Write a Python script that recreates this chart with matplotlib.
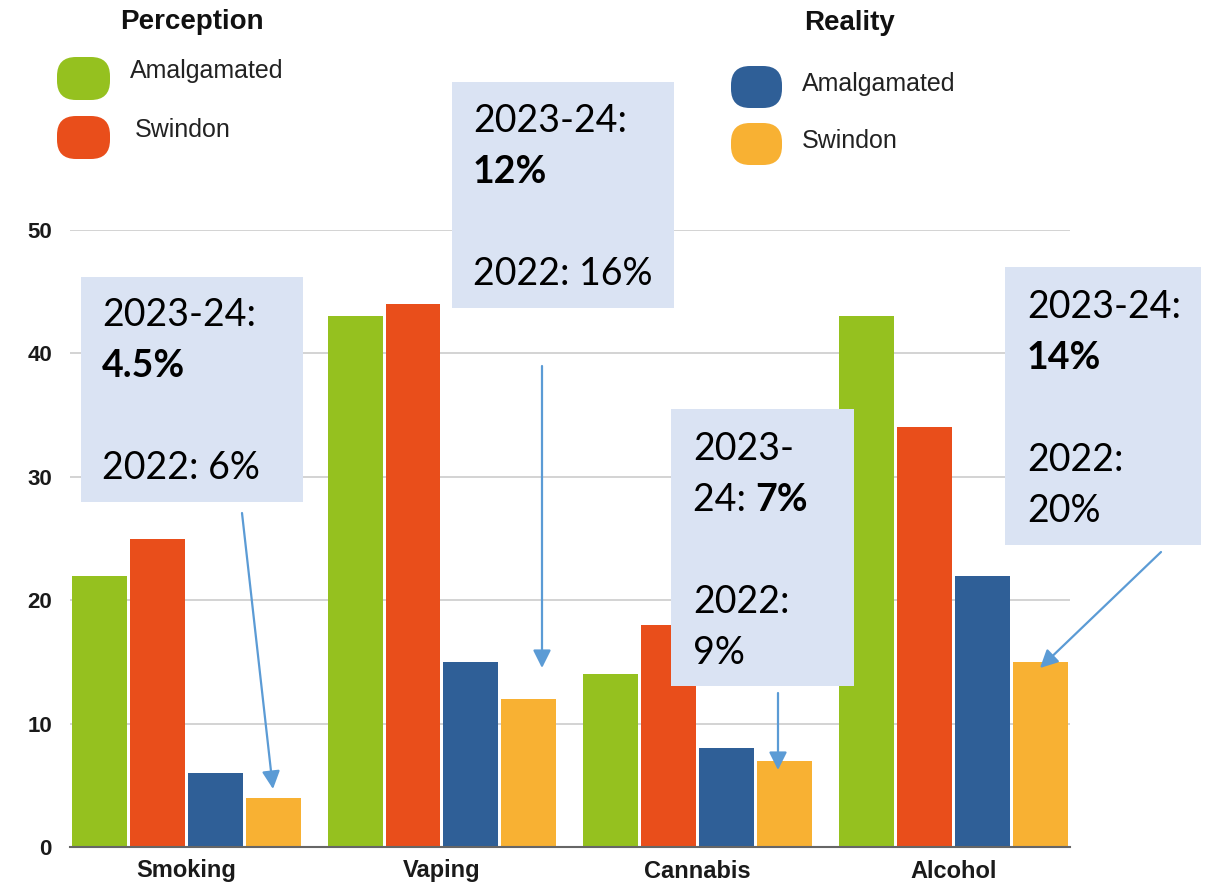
import numpy as np
import matplotlib
matplotlib.use("Agg")
import matplotlib.pyplot as plt
from matplotlib.patches import FancyBboxPatch, Rectangle, FancyArrowPatch
from matplotlib.transforms import Affine2D

# ---------------- data ----------------
categories = ["Smoking", "Vaping", "Cannabis", "Alcohol"]
perception_amalgamated = [22, 43, 14, 43]
perception_swindon = [25, 44, 18, 34]
reality_amalgamated = [6, 15, 8, 22]
reality_swindon = [4, 12, 7, 15]
series_names = ["Amalgamated", "Swindon", "Amalgamated", "Swindon"]
legend_titles = ["Perception", "Reality"]
y_ticks = [0, 10, 20, 30, 40, 50]

# callout texts: list of lines, each line list of (text, bold)
callouts = [
    [[("2023-24:", False)], [("4.5%", True)], [], [("2022: 6%", False)]],
    [[("2023-24:", False)], [("12%", True)], [], [("2022: 16%", False)]],
    [[("2023-", False)], [("24: ", False), ("7%", True)], [], [("2022:", False)], [("9%", False)]],
    [[("2023-24:", False)], [("14%", True)], [], [("2022:", False)], [("20%", False)]],
]

colors = ["#95C11F", "#E94E1B", "#2F5F97", "#F8B133"]
series = [perception_amalgamated, perception_swindon, reality_amalgamated, reality_swindon]

W, H = 1206, 886
fig = plt.figure(figsize=(W / 100, H / 100), dpi=100)
# pixel transform (top-left origin)
PX = Affine2D().scale(1, -1).translate(0, H)

ax = fig.add_axes([70 / W, (H - 847) / H, 1000 / W, (847 - 230) / H])
x = np.arange(len(categories))
step = 58 / 256
width = 55 / 256
for j, (vals, c) in enumerate(zip(series, colors)):
    ax.bar(x + (j - 1.5) * step, vals, width=width, color=c, linewidth=0, zorder=3)

ax.set_xlim(-116.5 / 256, 3 + 117 / 256)
ax.set_ylim(0, 50)
ax.set_yticks(y_ticks)
ax.set_yticklabels([str(v) for v in y_ticks], fontfamily="Liberation Sans",
                   fontweight="bold", fontsize=16, color="#1a1a1a")
ax.set_xticks(x)
ax.set_xticklabels(categories, fontfamily="Liberation Sans", fontweight="bold",
                   fontsize=17, color="#1a1a1a")
ax.tick_params(axis="y", length=0, pad=13)
ax.tick_params(axis="x", length=0, pad=9)
ax.grid(axis="y", color="#cccccc", linewidth=1.2, zorder=0)
for s in ["top", "right", "left"]:
    ax.spines[s].set_visible(False)
ax.spines["bottom"].set_color("#666666")
ax.spines["bottom"].set_linewidth(1.5)
ax.spines["bottom"].set_zorder(4)

# ---------------- legends ----------------
title_pos = [(192, 29), (850, 30)]
for t, (tx, ty) in zip(legend_titles, title_pos):
    fig.text(tx, ty, t, transform=PX, ha="center", va="baseline",
             fontfamily="Liberation Sans", fontweight="bold", fontsize=20, color="#111111")

pills = [(57, 57, 53, 43), (57, 116, 53, 43), (731, 66, 51, 42), (731, 123, 51, 42)]
label_pos = [(130, 78), (135, 137), (802, 91), (802, 148)]
for (px, py, pw, ph), c, name, (lx, ly) in zip(pills, colors, series_names, label_pos):
    r = 19
    patch = FancyBboxPatch((px + r, H - py - ph + r), pw - 2 * r, ph - 2 * r,
                           boxstyle=f"round,pad={r},rounding_size={r}",
                           transform=None, facecolor=c, edgecolor="none")
    fig.add_artist(patch)
    fig.text(lx, ly, name, transform=PX, ha="left", va="baseline",
             fontfamily="Liberation Sans", fontsize=18, color="#222222")

# ---------------- callout boxes ----------------
boxes = [(81, 277, 303, 502), (452, 82, 674, 308), (671, 409, 854, 686), (1005, 267, 1201, 545)]
text_left = [102, 473, 693, 1027]
first_baseline = [326, 132, 460, 318]
line_gap = 51
fig.canvas.draw()
renderer = fig.canvas.get_renderer()
for (x0, y0, x1, y1), tl, fb, lines in zip(boxes, text_left, first_baseline, callouts):
    fig.add_artist(Rectangle((x0, y1), x1 - x0, y0 - y1, transform=PX,
                             facecolor="#DAE3F3", edgecolor="none", zorder=5))
    for k, line in enumerate(lines):
        cx = tl
        by = fb + k * line_gap
        for txt, bold in line:
            t = fig.text(cx, by, txt, transform=PX, ha="left", va="baseline",
                         fontfamily="Lato", fontweight="bold" if bold else "normal",
                         fontsize=27, color="black", zorder=6)
            bb = t.get_window_extent(renderer=renderer)
            cx = cx + bb.width

# ---------------- arrows ----------------
arrows = [((242, 513), (273, 789)), ((542, 366), (542, 668)),
          ((778, 693), (778, 770)), ((1161, 552), (1040, 668))]
for a, b in arrows:
    fig.add_artist(FancyArrowPatch(a, b, transform=PX,
                                   arrowstyle="-|>,head_length=0.9,head_width=0.45",
                                   mutation_scale=12, color="#5B9BD5", linewidth=1.6,
                                   shrinkA=0, shrinkB=0, zorder=7))

fig.savefig("out.png", dpi=100)
